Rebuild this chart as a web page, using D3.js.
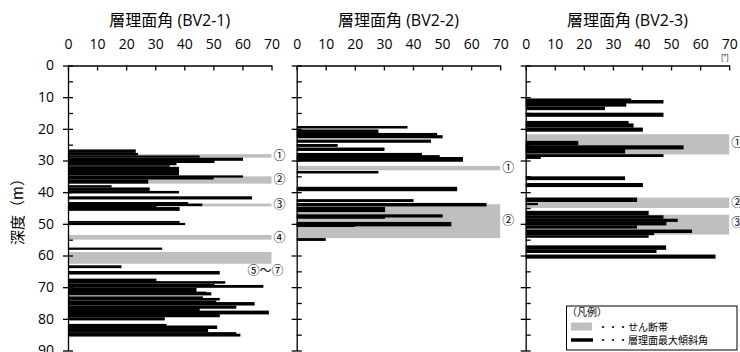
<!DOCTYPE html>
<html><head><meta charset="utf-8">
<script src="https://cdn.jsdelivr.net/npm/d3@7"></script>
<style>body{margin:0;background:#fff}svg{display:block}</style>
</head><body><svg id="c" width="740" height="352"></svg>
<script>
// ---------- data ----------
const panelTitles = ["層理面角 (BV2-1)", "層理面角 (BV2-2)", "層理面角 (BV2-3)"];
const angleTicks = [0, 10, 20, 30, 40, 50, 60, 70];
const depthTicks = [0, 10, 20, 30, 40, 50, 60, 70, 80, 90];
const depthMinorTicks = [5, 15, 25, 35, 45, 55, 65, 75, 85];
const depthLabel = "深度（m）";
const unitLabel = "[°]";
const legendTitle = "（凡例）";
const legendShear = "・・・せん断帯";
const legendBedding = "・・・層理面最大傾斜角";

// bars: [top depth (m), bottom depth (m), max dip angle (°)]
const bv21Bars = [
  [26.5, 27.6, 23.3], [27.6, 28.4, 24.1], [28.4, 29.1, 45.3], [29.1, 30.1, 60.2],
  [29.7, 30.8, 50.4], [30.8, 31.5, 37.3], [31.5, 32.0, 35.0], [32.0, 34.7, 38.2],
  [34.7, 35.4, 60.2], [35.1, 36.0, 50.1], [36.0, 37.3, 27.6], [37.8, 38.5, 15.0],
  [38.5, 39.6, 28.1], [39.6, 40.4, 38.2], [41.3, 42.3, 63.3], [43.1, 44.1, 41.3],
  [43.6, 44.4, 46.2], [44.1, 45.2, 30.4], [44.7, 45.9, 38.4], [49.1, 49.7, 38.4],
  [49.7, 50.4, 40.3], [57.5, 58.2, 32.4], [63.1, 64.0, 18.4], [64.9, 66.0, 52.2],
  [67.3, 68.4, 30.4], [68.1, 68.9, 54.1], [68.9, 69.8, 50.4], [69.3, 70.2, 67.2],
  [70.2, 71.6, 44.2], [71.4, 72.3, 47.6], [71.6, 72.6, 49.3], [72.9, 74.0, 46.4],
  [73.4, 74.2, 52.2], [74.2, 75.3, 51.0], [74.7, 75.8, 64.2], [75.8, 76.8, 57.9],
  [76.5, 77.6, 45.3], [77.4, 78.6, 69.1], [77.9, 79.5, 52.2], [79.5, 80.5, 33.3],
  [81.6, 82.7, 33.9], [82.1, 83.2, 51.3], [83.2, 84.2, 48.2], [84.2, 85.0, 57.9],
  [84.7, 85.6, 59.3]
];
const bv21Shear = [[28.0, 29.1], [35.0, 37.3], [43.6, 44.5], [53.5, 55.0], [58.9, 62.6]];
const bv21Labels = ["①", "②", "③", "④", "⑤～⑦"];
const bv21LabelDepth = [28.5, 35.9, 44.0, 54.5, 64.8];

const bv22Bars = [
  [19.1, 19.9, 38.1], [20.2, 21.3, 28.1], [21.3, 22.5, 48.3], [22.0, 23.0, 50.2],
  [23.4, 24.4, 46.2], [24.8, 25.7, 14.1], [25.9, 27.0, 30.2], [27.6, 28.6, 43.1],
  [28.3, 29.4, 49.2], [28.9, 30.4, 57.2], [33.3, 34.1, 28.1], [38.3, 39.7, 55.2],
  [42.2, 43.1, 40.2], [43.4, 44.5, 65.3], [44.7, 46.3, 30.4], [47.0, 48.0, 50.2],
  [47.6, 48.4, 30.4], [49.4, 50.8, 53.2], [49.9, 51.0, 20.1], [54.5, 55.4, 10.0]
];
const bv22Shear = [[31.7, 33.1], [43.8, 54.5]];
const bv22Labels = ["①", "②"];
const bv22LabelDepth = [32.4, 49.1];

const bv23Bars = [
  [10.4, 11.5, 36.3], [10.9, 12.0, 47.4], [11.8, 13.0, 34.6], [13.0, 14.1, 27.3],
  [14.9, 16.2, 47.4], [17.5, 18.5, 35.4], [18.3, 19.6, 37.1], [19.6, 20.9, 40.3],
  [23.8, 25.2, 18.1], [25.2, 26.5, 54.3], [26.2, 27.3, 34.2], [26.7, 27.8, 34.2],
  [28.0, 28.9, 47.4], [28.6, 29.5, 5.2], [35.0, 36.2, 34.2], [37.1, 38.4, 40.3],
  [41.7, 43.1, 38.3], [43.4, 44.1, 4.2], [45.9, 47.3, 42.3], [47.3, 48.4, 47.4],
  [48.4, 49.4, 52.3], [49.4, 50.5, 48.4], [50.5, 51.5, 38.3], [51.8, 52.9, 57.2],
  [52.9, 53.6, 44.2], [53.6, 54.4, 42.3], [56.8, 58.2, 48.3], [58.2, 59.2, 45.0],
  [59.7, 61.0, 65.3]
];
const bv23Shear = [[21.7, 28.1], [41.7, 45.0], [47.1, 53.4]];
const bv23Labels = ["①", "②", "③"];
const bv23LabelDepth = [24.5, 43.4, 49.7];

// ---------- layout ----------
const svg = d3.select("#c");
const FONT = "'Open Sans','Noto Sans CJK JP',sans-serif";
const JP = "'Noto Sans CJK JP',sans-serif";
const panelLeft = [68, 296.7, 525.7];
const panelW = 203.5;
const y = d3.scaleLinear().domain([0, 90]).range([65.5, 350.5]);
const SHEAR = "#bfbfbf";

const panels = [
  {bars: bv21Bars, shear: bv21Shear, labels: bv21Labels, depths: bv21LabelDepth},
  {bars: bv22Bars, shear: bv22Shear, labels: bv22Labels, depths: bv22LabelDepth},
  {bars: bv23Bars, shear: bv23Shear, labels: bv23Labels, depths: bv23LabelDepth}
];

panels.forEach((p, i) => {
  const x = d3.scaleLinear().domain([0, 70]).range([panelLeft[i], panelLeft[i] + panelW]);
  const g = svg.append("g");

  // shear zones
  g.selectAll(".sh").data(p.shear).join("rect")
    .attr("x", x(0)).attr("width", x(70) - x(0))
    .attr("y", d => y(d[0])).attr("height", d => y(d[1]) - y(d[0]))
    .attr("fill", SHEAR);

  // bedding bars
  g.selectAll(".bar").data(p.bars).join("rect")
    .attr("x", x(0)).attr("width", d => x(d[2]) - x(0))
    .attr("y", d => y(d[0])).attr("height", d => y(d[1]) - y(d[0]))
    .attr("fill", "#000");

  // top axis
  const ax = g.append("g").attr("transform", `translate(0,${y(0)})`)
    .call(d3.axisTop(x).tickValues(angleTicks).tickSizeInner(-5).tickSizeOuter(0).tickPadding(17));
  ax.select(".domain").attr("stroke", "#000").attr("stroke-width", 1.3);
  ax.selectAll(".tick line").attr("stroke-width", 1.3);
  ax.selectAll(".tick text").attr("font-family", FONT).attr("font-size", 14).attr("fill", "#000");

  // left axis (major ticks cross the axis)
  const ay = g.append("g").attr("transform", `translate(${x(0)},0)`)
    .call(d3.axisLeft(y).tickValues(depthTicks).tickSizeInner(5).tickSizeOuter(0).tickPadding(9));
  ay.select(".domain").attr("stroke", "#000").attr("stroke-width", 1.3);
  ay.selectAll(".tick line").attr("x1", 5).attr("stroke-width", 1.3);
  ay.selectAll(".tick text").attr("font-family", FONT).attr("font-size", 14).attr("fill", "#000");
  if (i > 0) ay.selectAll(".tick text").remove();

  const am = g.append("g").attr("transform", `translate(${x(0)},0)`)
    .call(d3.axisRight(y).tickValues(depthMinorTicks).tickSizeInner(5).tickSizeOuter(0).tickFormat(""));
  am.select(".domain").remove();
  am.selectAll(".tick line").attr("stroke-width", 1.3);

  // title
  svg.append("text").attr("x", (x(0) + x(70)) / 2).attr("y", 26)
    .attr("text-anchor", "middle").attr("font-family", FONT).attr("font-size", 16)
    .text(panelTitles[i]);

  // shear zone labels
  p.labels.forEach((t, k) => {
    const multi = t.length > 1;
    svg.append("text")
      .attr("x", multi ? x(70) + 12 : x(70) + 2)
      .attr("y", y(p.depths[k]))
      .attr("dy", "0.36em")
      .attr("text-anchor", multi ? "end" : "start")
      .attr("font-family", JP).attr("font-size", 12)
      .text(t);
  });
});

// y label
svg.append("text").attr("transform", "translate(18,208) rotate(-90)")
  .attr("text-anchor", "middle").attr("dy", "0.35em")
  .attr("font-family", JP).attr("font-size", 15).text(depthLabel);

// unit
svg.append("text").attr("x", 725).attr("y", 60).attr("text-anchor", "middle")
  .attr("font-family", JP).attr("font-size", 7.5).text(unitLabel);

// legend
const lg = svg.append("g");
lg.append("rect").attr("x", 566.5).attr("y", 306).attr("width", 170.5).attr("height", 44)
  .attr("fill", "#fff").attr("stroke", "#000").attr("stroke-width", 1);
lg.append("text").attr("x", 567).attr("y", 316).attr("font-family", JP).attr("font-size", 10).text(legendTitle);
lg.append("rect").attr("x", 571).attr("y", 322.5).attr("width", 21).attr("height", 8).attr("fill", SHEAR);
lg.append("text").attr("x", 598).attr("y", 330.5).attr("font-family", JP).attr("font-size", 10).text(legendShear);
lg.append("line").attr("x1", 571).attr("x2", 593).attr("y1", 340).attr("y2", 340)
  .attr("stroke", "#000").attr("stroke-width", 3.5);
lg.append("text").attr("x", 598).attr("y", 344).attr("font-family", JP).attr("font-size", 10).text(legendBedding);
</script></body></html>
